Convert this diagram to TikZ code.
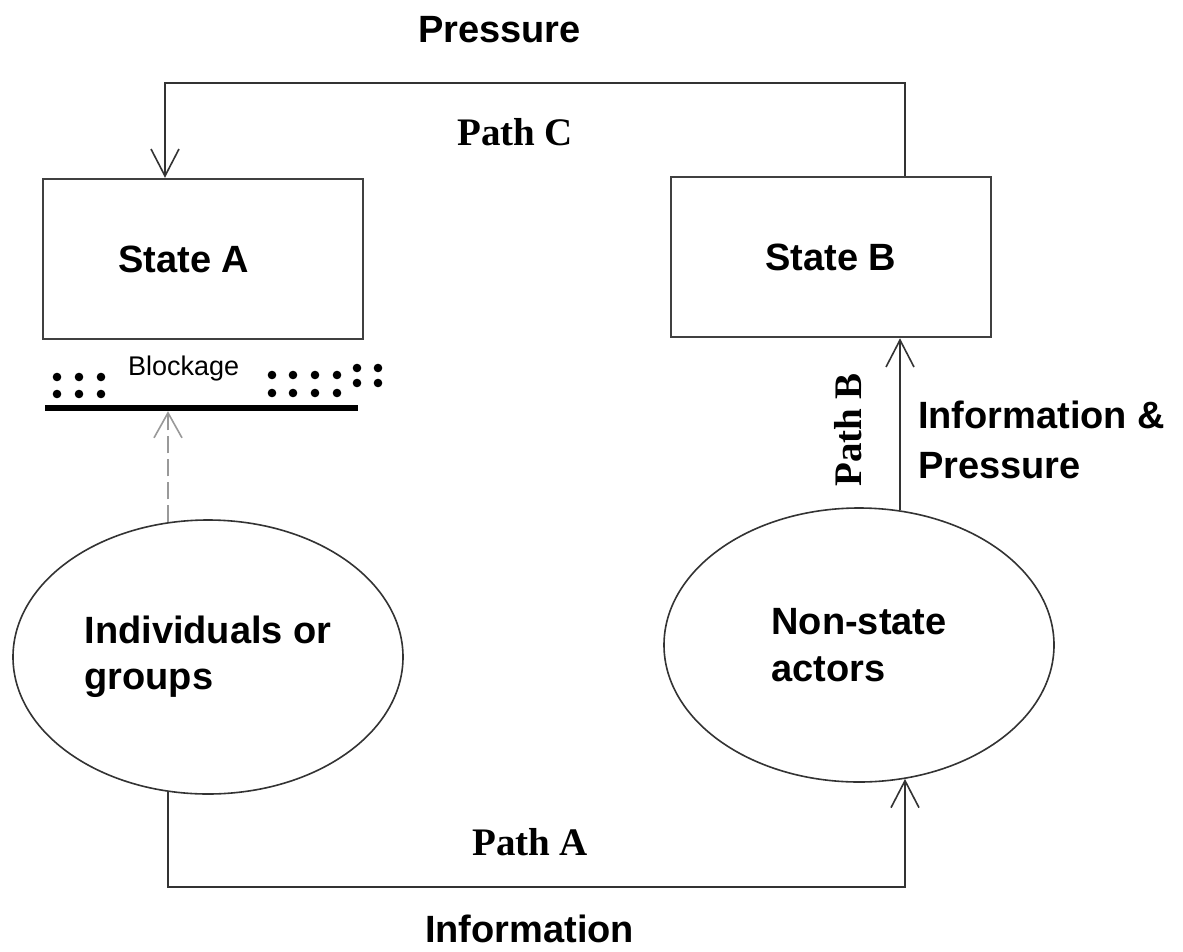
\documentclass[tikz,border=0pt]{standalone}
\usepackage{fontspec}
\setmainfont{Liberation Sans}
\newfontfamily\timesfam{Liberation Serif}
\usetikzlibrary{shapes.geometric,arrows.meta,calc}
\tikzset{
  lbl/.style={font=\fontsize{38}{46}\selectfont\bfseries, text=black, inner sep=0pt},
  pathlbl/.style={font=\timesfam\bfseries\fontsize{39}{46}\selectfont, text=black, inner sep=0pt},
  statebox/.style={rectangle, draw=black!75, line width=2.5pt, minimum width=320pt, minimum height=160pt, inner sep=0pt, lbl},
  oval/.style={ellipse, draw=black!80, line width=1.6pt, minimum width=390pt, minimum height=274pt, inner sep=0pt, align=left, lbl},
  conn/.style={draw=black!80, line width=2pt},
  arr/.style={-{Straight Barb[length=27pt,width=28pt,line width=1.6pt]}},
  dasharr/.style={draw=black!40, line width=2.2pt, dash pattern=on 17pt off 6pt, -{Straight Barb[length=25pt,width=28pt,line width=1.6pt]}},
  dotstyle/.style={fill=black}
}
\begin{document}
\begin{tikzpicture}[x=1pt,y=-1pt]
\useasboundingbox[fill=white] (0,0) rectangle (1183,951);

% boxes and ellipses
\node[statebox] (stateA) at (203,259) {State A\hspace*{38pt}};
\node[statebox] (stateB) at (831,257) {State B};
\node[oval] (indiv) at (208,657) {Individuals or\\groups};
\node[oval, font=\fontsize{38}{47}\selectfont\bfseries] (nsa) at (859,645) {Non-state\\actors};

% blockage
\node[fill=black, minimum width=313pt, minimum height=6pt, inner sep=0pt] (bar) at (201.5,408) {};
\node[font=\fontsize{27}{30}\selectfont, anchor=base west, inner sep=0pt] (blk) at (128,375) {Blockage};
\foreach \x in {57,79,101} \foreach \y in {377,394} \fill[dotstyle] (\x,\y) circle (4.3pt);
\foreach \x in {272,293,315,337} \foreach \y in {375,393} \fill[dotstyle] (\x,\y) circle (4.3pt);
\foreach \x in {357,378} \foreach \y in {368,383} \fill[dotstyle] (\x,\y) circle (4.3pt);

% helper coordinates
\coordinate (cR) at (905,83);
\coordinate (cL) at (165,83);
\coordinate (aL) at (168,887);
\coordinate (aR) at (905,887);
\coordinate (bX) at (900,420);
\coordinate (dX) at (168,450);

% Path C
\draw[conn, arr] (cR |- stateB.north) -- (cR) -- (cL) -- (cL |- stateA.north);
% Path A
\draw[conn, arr] (aL |- indiv.-107) -- (aL) -- (aR) -- (aR |- nsa.-71);
% Path B
\draw[conn, arr] (bX |- nsa.73) -- (bX |- stateB.south);
% blocked path
\draw[dasharr] (dX |- indiv.107) -- (dX |- bar.south);

% labels
\node[lbl, anchor=base west] (pressTop) at (418,42) {Pressure};
\node[pathlbl, anchor=base west] (pathC) at (457,145) {Path C};
\node[pathlbl, anchor=base west] (pathA) at (472,855) {Path A};
\node[lbl, anchor=base west] (infoBot) at (425,942) {Information};
\node[pathlbl, rotate=90, anchor=base west] (pathB) at (861,487) {Path B};
\node[lbl, font=\fontsize{38}{50}\selectfont\bfseries, anchor=north west, align=left] (infoPress) at (918,401) {Information \&\\Pressure};
\end{tikzpicture}
\end{document}
